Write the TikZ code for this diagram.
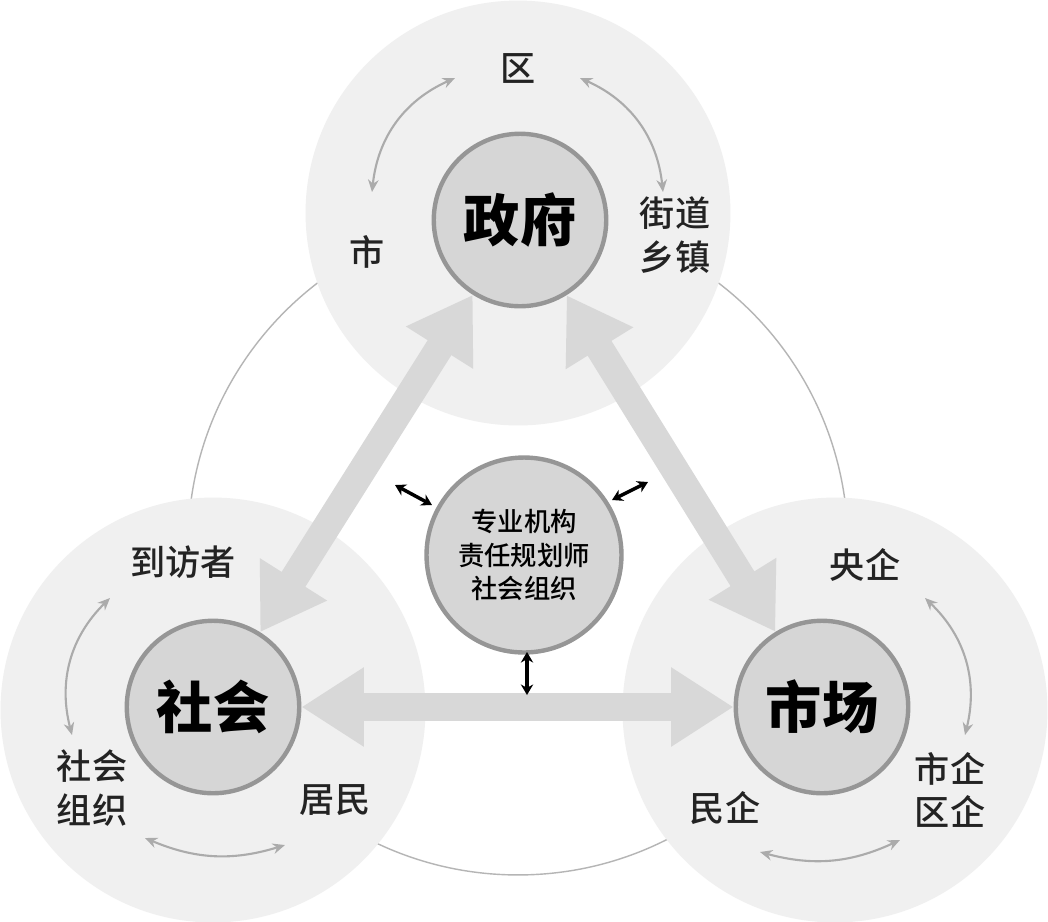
\documentclass[tikz,border=0pt]{standalone}
\usepackage{fontspec}
\setmainfont{Noto Sans CJK SC}
\newfontfamily\medf{Noto Sans CJK SC Medium}
\usetikzlibrary{arrows.meta}
\definecolor{bigc}{RGB}{240,240,240}
\definecolor{innc}{RGB}{214,214,214}
\definecolor{bord}{RGB}{150,150,150}
\definecolor{thick}{RGB}{216,216,216}
\definecolor{txt}{RGB}{35,35,35}
\begin{document}
\begin{tikzpicture}[x=0.02cm,y=-0.02cm,
  big/.style={circle,fill=bigc,minimum size=8.5cm,inner sep=0pt},
  inner/.style={circle,fill=innc,draw=bord,line width=2.5pt,minimum size=3.45cm,inner sep=0pt,font=\fontsize{32}{34}\selectfont\bfseries,text=black},
  lab/.style={font=\fontsize{20}{25}\selectfont\medf,text=txt,align=center},
  fat/.style={draw=thick,line width=0.56cm,{Triangle[width=1.5cm,length=1.25cm]}-{Triangle[width=1.5cm,length=1.25cm]}},
  thin/.style={draw=bord!80,line width=1.2pt,{Stealth[length=7pt,width=6pt]}-{Stealth[length=7pt,width=6pt]}},
  small/.style={draw=black,line width=2pt,{Stealth[length=6pt,width=7pt]}-{Stealth[length=6pt,width=7pt]}}]
\useasboundingbox (0,0) rectangle (1048,921);
\fill[white] (0,0) rectangle (1048,921);
\node[circle,draw=bord!70,line width=0.8pt,minimum size=13.2cm] (ring) at (518,545) {};
\node[big] (bg) at (518,213) {};
\node[big] (bs) at (213,710) {};
\node[big] (bm) at (835,710) {};
\node[inner] (gov) at (520,220) {政府};
\node[inner] (soc) at (213,707) {社会};
\node[inner] (mkt) at (822,707) {市场};
\draw[fat] (gov) -- (soc);
\draw[fat] (gov) -- (mkt);
\draw[fat] (soc) -- (mkt);
\node[inner,minimum size=3.9cm,font=\fontsize{15}{19}\selectfont\medf,align=center] (ctr) at (524,555) {专业机构\\责任规划师\\社会组织};
\coordinate (a1) at (395,485); \coordinate (a2) at (432,505);
\coordinate (b1) at (612,500); \coordinate (b2) at (648,482);
\coordinate (c1) at (527,652); \coordinate (c2) at (527,695);
\draw[small] (a1) -- (a2);
\draw[small] (b1) -- (b2);
\draw[small] (c1) -- (c2);
\node[lab] (q) at (518,68) {区};
\node[lab] (s) at (367,252) {市};
\node[lab] (jd) at (675,235) {街道\\乡镇};
\node[lab] (dfz) at (183,562) {到访者};
\node[lab] (shzz) at (92,788) {社会\\组织};
\node[lab] (jm) at (335,800) {居民};
\node[lab] (yq) at (865,565) {央企};
\node[lab] (mq) at (725,808) {民企};
\node[lab] (sq) at (950,790) {市企\\区企};
\coordinate (g1) at (455,78); \coordinate (g2) at (372,192);
\coordinate (g3) at (580,78); \coordinate (g4) at (663,192);
\coordinate (l1) at (110,598); \coordinate (l2) at (72,735);
\coordinate (l3) at (145,838); \coordinate (l4) at (285,845);
\coordinate (r1) at (925,598); \coordinate (r2) at (965,735);
\coordinate (r3) at (760,852); \coordinate (r4) at (900,840);
\draw[thin] (g1) to[bend right=30] (g2);
\draw[thin] (g3) to[bend left=30] (g4);
\draw[thin] (l1) to[bend right=30] (l2);
\draw[thin] (l3) to[bend right=20] (l4);
\draw[thin] (r1) to[bend left=30] (r2);
\draw[thin] (r3) to[bend right=20] (r4);
\end{tikzpicture}
\end{document}
